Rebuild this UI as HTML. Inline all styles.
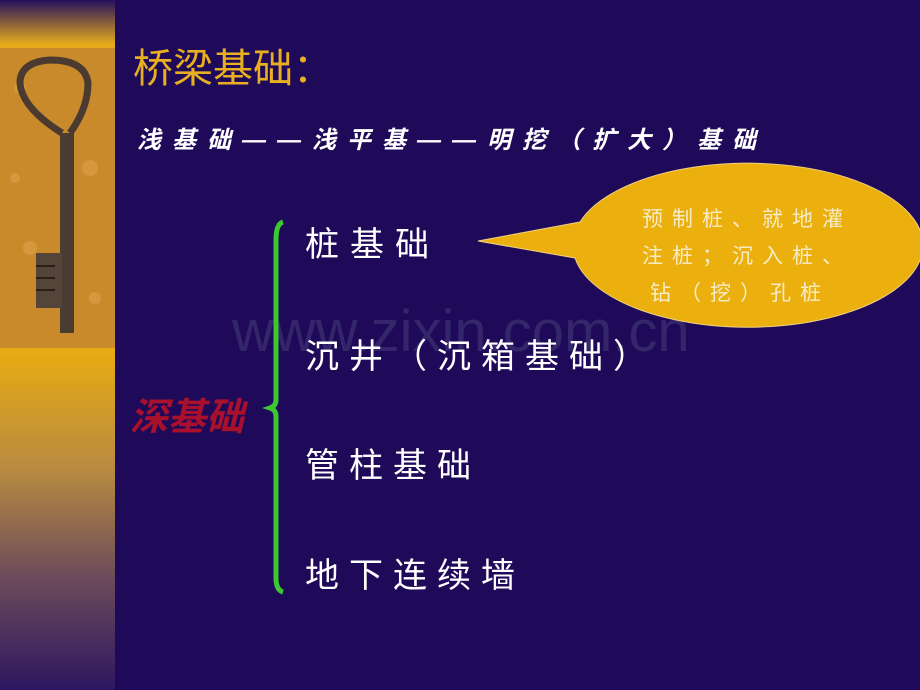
<!DOCTYPE html>
<html><head><meta charset="utf-8"><style>
body{margin:0;width:920px;height:690px;overflow:hidden;background:#1f0a5a;position:relative;font-family:"Liberation Sans","Noto Sans CJK SC",sans-serif}
.t{position:absolute;white-space:nowrap}
</style></head><body>
<div style="position:absolute;left:0;top:0;width:115px;height:690px;background:linear-gradient(#24105c 0px,#e4aa1c 44px,#e8ab12 350px,#b88a40 470px,#6a4a5a 580px,#2e1760 690px)"></div>
<svg style="position:absolute;left:0;top:48px" width="115" height="300">
<rect width="115" height="300" fill="#c98a2c"/>
<g fill="#dca24a" opacity=".6"><circle cx="20" cy="40" r="6"/><circle cx="90" cy="120" r="8"/><circle cx="30" cy="200" r="7"/><circle cx="95" cy="250" r="6"/><circle cx="15" cy="130" r="5"/></g>
<path d="M62 85 Q22 60 20 35 Q20 14 50 12 Q85 12 88 35 Q88 60 70 85" fill="none" stroke="#4a3a30" stroke-width="7"/>
<rect x="60" y="85" width="14" height="200" fill="#4b3c32"/>
<rect x="36" y="205" width="26" height="55" fill="#55443a"/>
<g stroke="#2a2018" stroke-width="2"><line x1="36" y1="218" x2="55" y2="218"/><line x1="36" y1="230" x2="55" y2="230"/><line x1="36" y1="242" x2="55" y2="242"/></g>
</svg>
<div class="t" style="left:133px;top:36px;font-size:40px;color:#e8b020">桥梁基础：</div>
<div class="t" style="left:137px;top:120px;font-size:24px;color:#fff;font-weight:bold;font-style:italic;letter-spacing:11px">浅基础——浅平基——明挖（扩大）基础</div>
<div class="t" style="left:232px;top:298px;font-size:58px;color:#34266a">www.zixin.com.cn</div>
<svg style="position:absolute;left:0;top:0" width="920" height="690">
<path d="M478 241 L580 222 A175 82 0 1 1 575 258 Z" fill="#ecb00e" stroke="#f0d080" stroke-width="1"/>
<path d="M283 222 Q276 224 276 240 L276 400 Q276 406 270 408 Q276 410 276 416 L276 578 Q276 590 283 592" fill="none" stroke="#3cc830" stroke-width="5"/>
</svg>
<div class="t" style="left:642px;top:203px;font-size:21px;color:#f6ecc8;letter-spacing:9px">预制桩、就地灌</div>
<div class="t" style="left:642px;top:240px;font-size:21px;color:#f6ecc8;letter-spacing:9px">注桩；沉入桩、</div>
<div class="t" style="left:650px;top:277px;font-size:21px;color:#f6ecc8;letter-spacing:9px">钻（挖）孔桩</div>
<div class="t" style="left:305px;top:217px;font-size:34px;color:#fff;letter-spacing:11px">桩基础</div>
<div class="t" style="left:305px;top:329px;font-size:34px;color:#fff;letter-spacing:10px">沉井（沉箱基础）</div>
<div class="t" style="left:305px;top:438px;font-size:34px;color:#fff;letter-spacing:10px">管柱基础</div>
<div class="t" style="left:305px;top:548px;font-size:34px;color:#fff;letter-spacing:10px">地下连续墙</div>
<div class="t" style="left:130px;top:386px;font-size:38px;color:#a8102c;font-weight:bold;font-style:italic">深基础</div>
</body></html>
